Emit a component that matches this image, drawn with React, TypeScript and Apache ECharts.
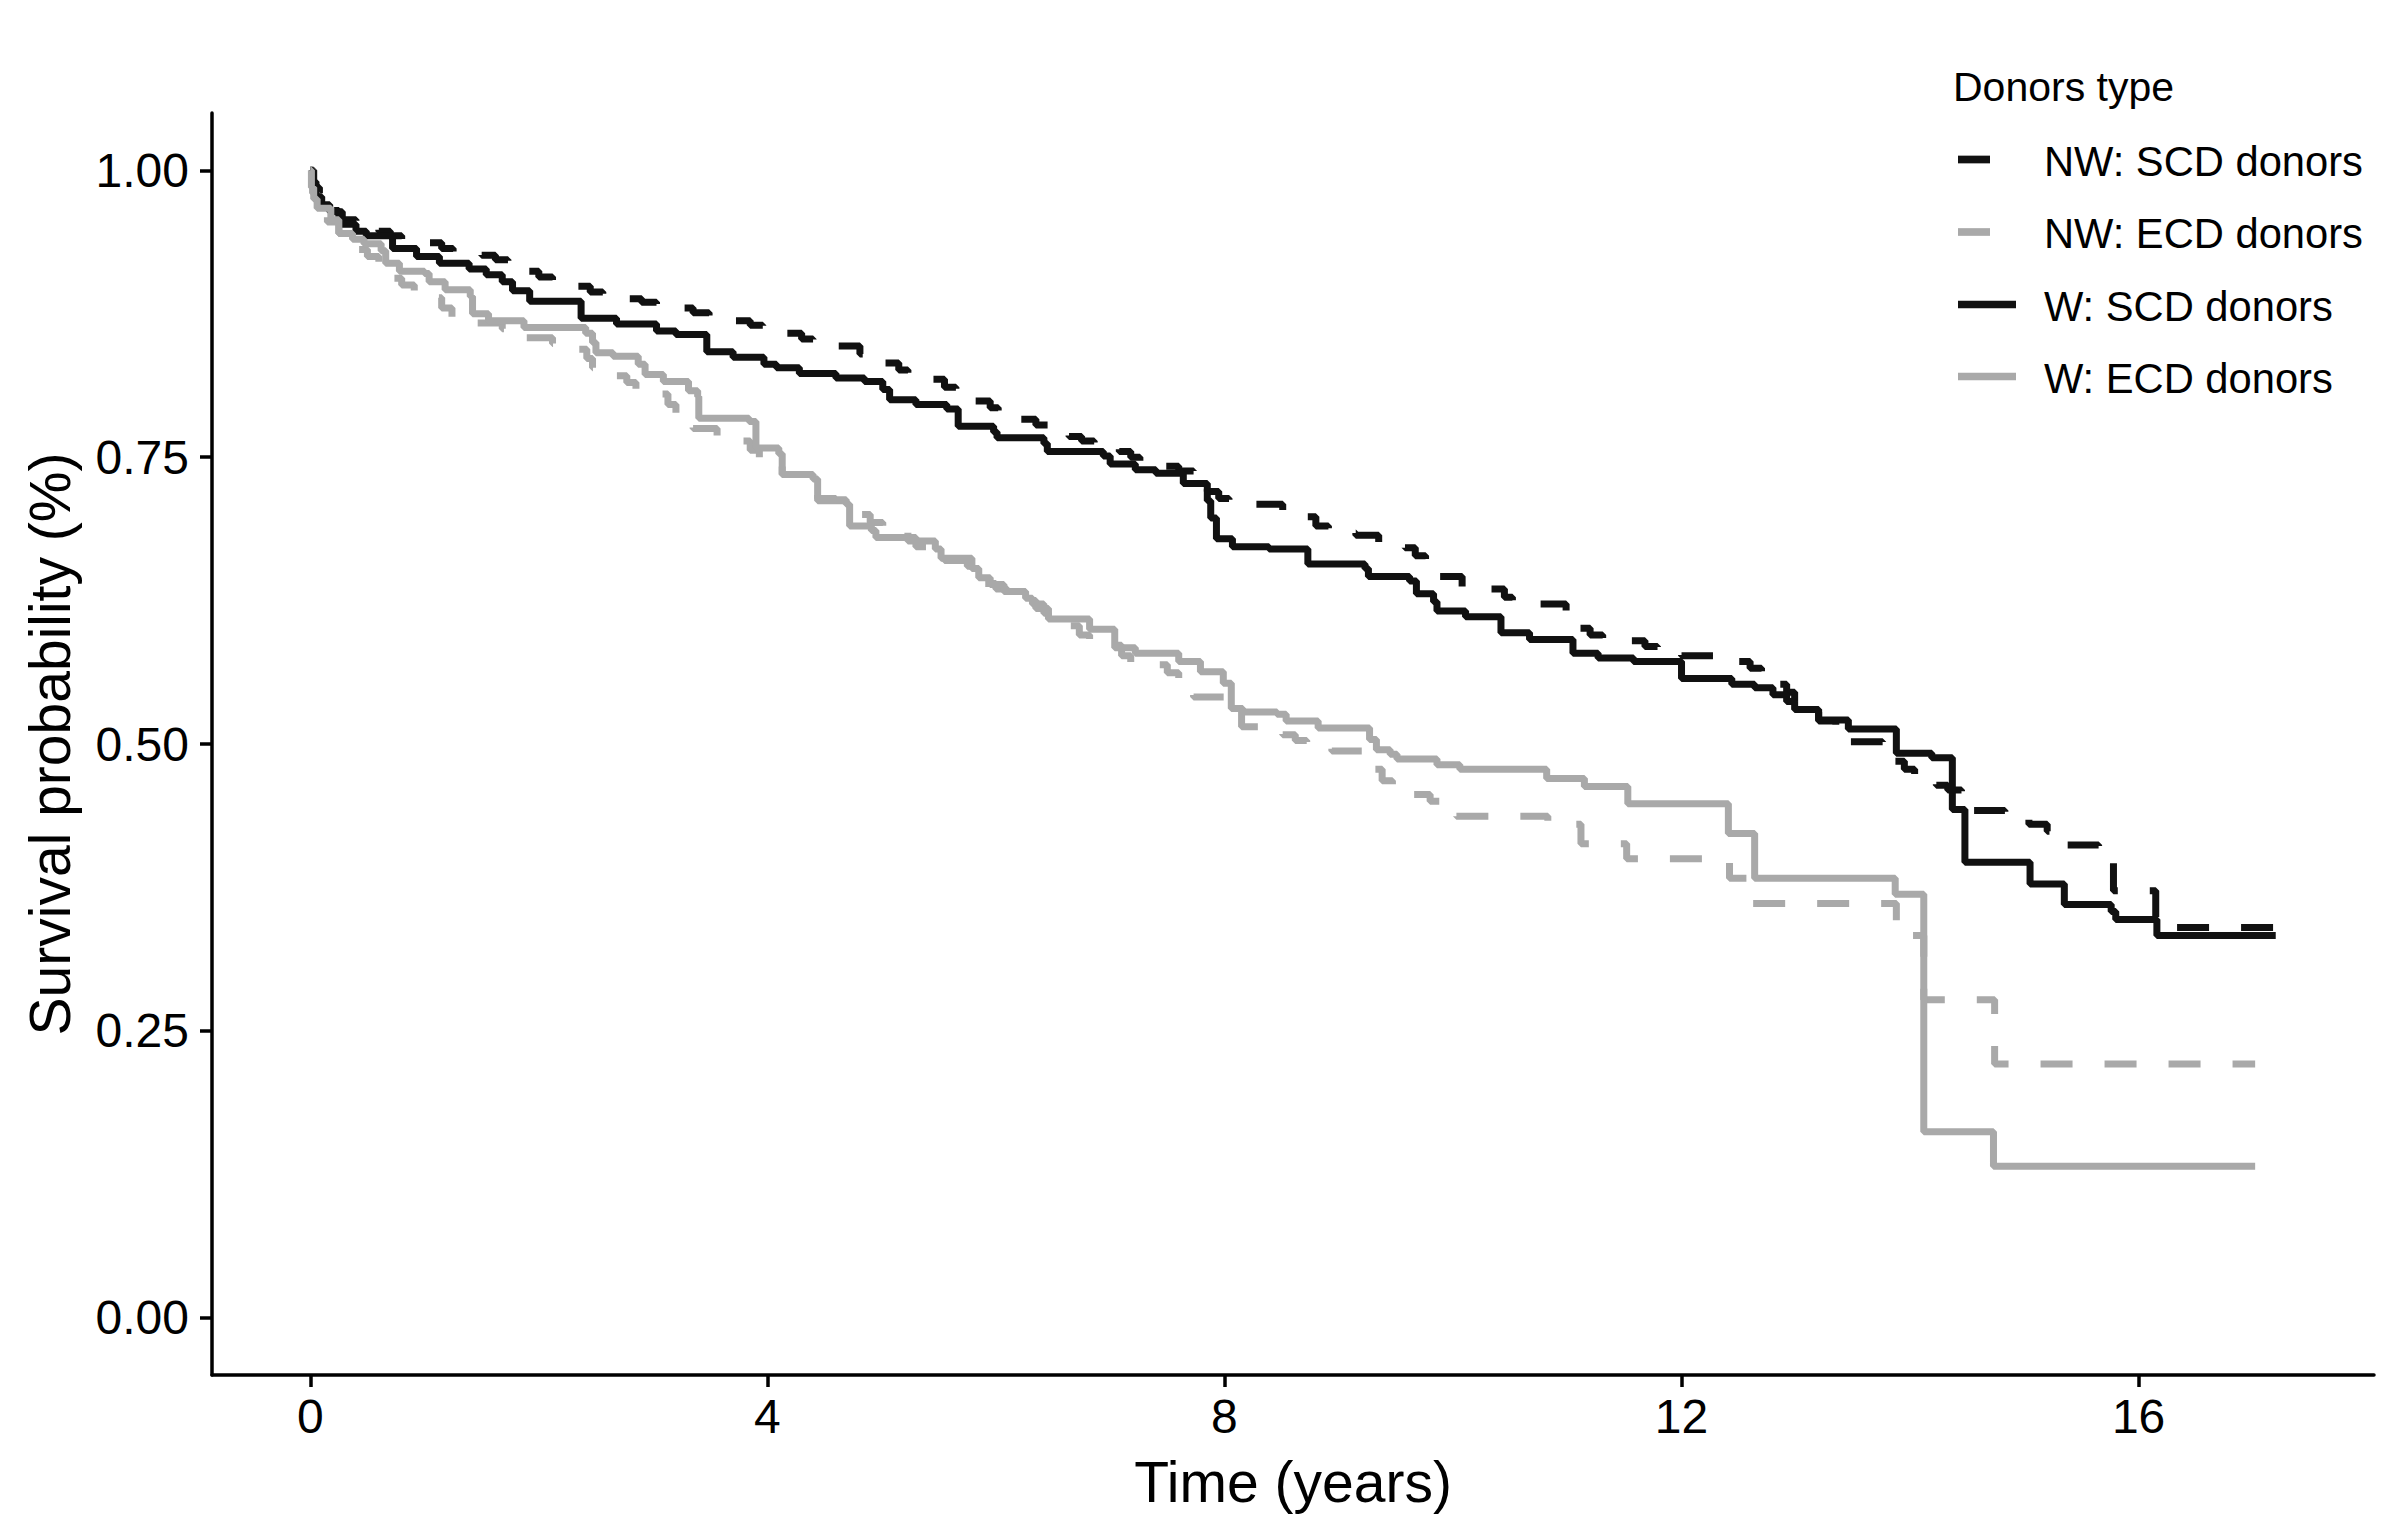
import React, { useEffect, useRef } from "react";
import * as echarts from "echarts";

const xTicks = [0, 4, 8, 12, 16];
const yTicks = [0, 0.25, 0.5, 0.75, 1.0];
const seriesNames = ["NW: SCD donors", "NW: ECD donors", "W: SCD donors", "W: ECD donors"];
const legendTitle = "Donors type";

// [time (years), survival probability] – step points (value holds from this time on)
const nwScd: number[][] = [
  [0, 1.0], [0.03, 0.985], [0.08, 0.975], [0.15, 0.965], [0.25, 0.957], [0.4, 0.952], [0.6, 0.947], [0.7, 0.943],
  [0.8, 0.94], [1.0, 0.937], [1.15, 0.932], [1.25, 0.928], [1.5, 0.926], [1.62, 0.922], [1.73, 0.918], [1.9, 0.912],
  [2.0, 0.907], [2.12, 0.902], [2.34, 0.899], [2.45, 0.894], [2.56, 0.89], [2.78, 0.888], [2.9, 0.885], [3.03, 0.882],
  [3.27, 0.88], [3.35, 0.876], [3.49, 0.871], [3.71, 0.869], [3.85, 0.865], [3.96, 0.862], [4.16, 0.858], [4.3, 0.853],
  [4.4, 0.849], [4.62, 0.847], [4.81, 0.84], [5.03, 0.832], [5.15, 0.826], [5.23, 0.821], [5.43, 0.818], [5.55, 0.811],
  [5.65, 0.806], [5.82, 0.799], [5.95, 0.793], [6.02, 0.788], [6.21, 0.783], [6.35, 0.778], [6.46, 0.775], [6.64, 0.768],
  [6.75, 0.764], [6.86, 0.76], [7.08, 0.755], [7.18, 0.75], [7.26, 0.745], [7.48, 0.742], [7.6, 0.738], [7.73, 0.735],
  [7.8, 0.725], [7.85, 0.72], [7.95, 0.714], [8.04, 0.709], [8.51, 0.7], [8.71, 0.698], [8.8, 0.69], [8.91, 0.684],
  [9.15, 0.682], [9.35, 0.674], [9.58, 0.671], [9.67, 0.664], [9.76, 0.657], [9.88, 0.646], [10.08, 0.635], [10.45, 0.628],
  [10.52, 0.622], [10.99, 0.613], [11.11, 0.601], [11.2, 0.595], [11.31, 0.59], [11.68, 0.585], [11.79, 0.581], [12.0, 0.577],
  [12.29, 0.574], [12.5, 0.572], [12.6, 0.566], [12.7, 0.561], [12.86, 0.552], [12.92, 0.545], [12.99, 0.537], [13.1, 0.528],
  [13.2, 0.52], [13.35, 0.51], [13.46, 0.502], [13.76, 0.498], [13.86, 0.485], [13.95, 0.478], [14.04, 0.47], [14.23, 0.464],
  [14.33, 0.46], [14.45, 0.442], [14.83, 0.438], [15.04, 0.43], [15.2, 0.424], [15.37, 0.412], [15.65, 0.406], [15.78, 0.372],
  [16.15, 0.34], [17.2, 0.34],
];

const nwEcd: number[][] = [
  [0, 1.0], [0.02, 0.98], [0.06, 0.965], [0.15, 0.955], [0.25, 0.945], [0.39, 0.931], [0.5, 0.925], [0.6, 0.919],
  [0.71, 0.906], [0.8, 0.9], [0.91, 0.893], [1.09, 0.889], [1.15, 0.88], [1.24, 0.871], [1.45, 0.867], [1.68, 0.862],
  [1.89, 0.854], [2.12, 0.849], [2.34, 0.844], [2.42, 0.836], [2.47, 0.828], [2.68, 0.821], [2.77, 0.815], [2.85, 0.809],
  [3.07, 0.805], [3.13, 0.796], [3.2, 0.787], [3.35, 0.775], [3.56, 0.768], [3.78, 0.764], [3.85, 0.756], [3.93, 0.749],
  [4.13, 0.735], [4.4, 0.728], [4.44, 0.712], [4.69, 0.705], [4.81, 0.7], [4.9, 0.693], [5.01, 0.687], [5.23, 0.68],
  [5.3, 0.672], [5.5, 0.667], [5.55, 0.66], [5.75, 0.655], [5.82, 0.648], [5.9, 0.64], [6.0, 0.635], [6.1, 0.63],
  [6.26, 0.625], [6.35, 0.618], [6.46, 0.61], [6.64, 0.603], [6.73, 0.595], [6.82, 0.588], [7.0, 0.586], [7.1, 0.577],
  [7.18, 0.569], [7.5, 0.562], [7.6, 0.555], [7.73, 0.541], [8.06, 0.528], [8.15, 0.515], [8.51, 0.508], [8.62, 0.503],
  [8.72, 0.5], [8.94, 0.494], [9.3, 0.478], [9.38, 0.468], [9.47, 0.46], [9.65, 0.456], [9.8, 0.45], [9.89, 0.447],
  [10.03, 0.437], [10.83, 0.43], [11.12, 0.413], [11.52, 0.4], [12.42, 0.383], [12.62, 0.361], [13.88, 0.345], [14.02, 0.333],
  [14.12, 0.277], [14.74, 0.221], [17.02, 0.221],
];

const wScd: number[][] = [
  [0, 1.0], [0.02, 0.99], [0.05, 0.977], [0.1, 0.97], [0.17, 0.964], [0.28, 0.953], [0.4, 0.947], [0.49, 0.943],
  [0.72, 0.932], [0.93, 0.925], [1.13, 0.919], [1.39, 0.914], [1.54, 0.909], [1.68, 0.903], [1.77, 0.895], [1.92, 0.886],
  [2.37, 0.871], [2.68, 0.866], [3.03, 0.86], [3.2, 0.857], [3.47, 0.842], [3.7, 0.837], [3.97, 0.831], [4.08, 0.828],
  [4.28, 0.823], [4.6, 0.819], [4.85, 0.816], [5.01, 0.809], [5.07, 0.8], [5.3, 0.796], [5.57, 0.792], [5.67, 0.777],
  [5.98, 0.772], [6.01, 0.767], [6.42, 0.762], [6.45, 0.755], [6.94, 0.751], [7.0, 0.744], [7.22, 0.739], [7.4, 0.736],
  [7.64, 0.727], [7.85, 0.712], [7.88, 0.697], [7.93, 0.679], [8.07, 0.672], [8.39, 0.67], [8.73, 0.657], [9.23, 0.653],
  [9.26, 0.646], [9.62, 0.642], [9.68, 0.631], [9.83, 0.624], [9.86, 0.616], [10.11, 0.611], [10.42, 0.597], [10.67, 0.591],
  [11.05, 0.579], [11.27, 0.575], [11.58, 0.572], [12.0, 0.557], [12.44, 0.552], [12.64, 0.549], [12.8, 0.543], [12.92, 0.537],
  [12.99, 0.53], [13.2, 0.521], [13.46, 0.513], [13.88, 0.492], [14.19, 0.488], [14.37, 0.443], [14.48, 0.397], [15.05, 0.378],
  [15.35, 0.36], [15.76, 0.354], [15.8, 0.347], [16.16, 0.333], [17.2, 0.333],
];

const wEcd: number[][] = [
  [0, 1.0], [0.01, 0.985], [0.03, 0.975], [0.06, 0.967], [0.18, 0.957], [0.25, 0.945], [0.37, 0.94], [0.47, 0.936],
  [0.62, 0.93], [0.66, 0.919], [0.78, 0.912], [1.0, 0.91], [1.04, 0.903], [1.18, 0.896], [1.4, 0.89], [1.42, 0.875],
  [1.56, 0.869], [1.87, 0.863], [2.41, 0.858], [2.47, 0.85], [2.5, 0.841], [2.65, 0.838], [2.87, 0.831], [2.93, 0.822],
  [3.09, 0.816], [3.31, 0.808], [3.39, 0.803], [3.4, 0.784], [3.84, 0.781], [3.9, 0.758], [4.1, 0.753], [4.13, 0.735],
  [4.4, 0.731], [4.44, 0.714], [4.6, 0.713], [4.69, 0.709], [4.72, 0.69], [4.91, 0.686], [4.95, 0.68], [5.23, 0.677],
  [5.47, 0.67], [5.52, 0.662], [5.79, 0.653], [5.85, 0.645], [5.95, 0.639], [6.07, 0.633], [6.26, 0.627], [6.32, 0.622],
  [6.42, 0.614], [6.46, 0.609], [6.82, 0.6], [7.04, 0.584], [7.22, 0.579], [7.6, 0.572], [7.79, 0.563], [7.99, 0.553],
  [8.06, 0.531], [8.16, 0.528], [8.46, 0.526], [8.54, 0.52], [8.82, 0.514], [9.27, 0.504], [9.33, 0.495], [9.45, 0.491],
  [9.51, 0.487], [9.86, 0.482], [10.06, 0.478], [10.82, 0.47], [11.15, 0.463], [11.53, 0.448], [12.41, 0.422], [12.64, 0.383],
  [13.87, 0.369], [14.12, 0.162], [14.73, 0.132], [17.02, 0.132],
];

const seriesData = [nwScd, nwEcd, wScd, wEcd];
const seriesColors = ["#111111", "#a9a9a9", "#111111", "#a9a9a9"];
const seriesDashed = [true, true, false, false];

const FONT = "'Liberation Sans', Arial, Helvetica, sans-serif";
const DASH = [32, 32];

export default function App() {
  const ref = useRef<HTMLDivElement>(null);

  useEffect(() => {
    if (!ref.current) return;
    const chart = echarts.init(ref.current, undefined, { renderer: "svg" });
    const axisCommon = {
      type: "value" as const,
      splitLine: { show: false },
      axisLine: { show: true, onZero: false, lineStyle: { color: "#000", width: 3.5 } },
      nameLocation: "middle" as const,
      nameTextStyle: { fontSize: 57, color: "#000", fontFamily: FONT },
    };

    // legend drawn as graphic elements (key line + label)
    const keyX0 = 1958;
    const keyX1 = 2016;
    const textX = 2044;
    const rowY = [161, 233.5, 306, 378];
    const legendEls: any[] = [];
    seriesNames.forEach((name, i) => {
      legendEls.push({
        type: "line",
        shape: { x1: keyX0, y1: rowY[i] - 1.5, x2: keyX1, y2: rowY[i] - 1.5 },
        style: {
          stroke: seriesColors[i],
          lineWidth: 7.7,
          lineDash: seriesDashed[i] ? DASH : null,
          lineCap: "butt",
        },
      });
      legendEls.push({
        type: "text",
        x: textX,
        y: rowY[i],
        style: {
          text: name,
          fontSize: 41.7,
          fontFamily: FONT,
          fill: "#000",
          textAlign: "left",
          textVerticalAlign: "middle",
        },
      });
    });

    chart.setOption({
      animation: false,
      backgroundColor: "#ffffff",
      textStyle: { fontFamily: FONT },
      title: {
        text: legendTitle,
        left: 1953,
        top: 66,
        padding: 0,
        textStyle: { fontSize: 41, fontWeight: "normal", color: "#000", fontFamily: FONT, lineHeight: 41 },
      },
      graphic: legendEls,
      grid: { left: 212, right: 26, top: 113, bottom: 162, containLabel: false },
      xAxis: {
        ...axisCommon,
        min: -0.86,
        max: 18.06,
        name: "Time (years)",
        nameGap: 78,
        axisTick: { show: true, length: 12, lineStyle: { color: "#000", width: 3.5 }, customValues: xTicks },
        axisLabel: { customValues: xTicks, fontSize: 48, color: "#000", margin: 17, fontFamily: FONT },
      },
      yAxis: {
        ...axisCommon,
        min: -0.05,
        max: 1.05,
        name: "Survival probability (%)",
        nameGap: 134,
        axisTick: { show: true, length: 12, lineStyle: { color: "#000", width: 3.5 }, customValues: yTicks },
        axisLabel: {
          customValues: yTicks,
          fontSize: 48,
          color: "#000",
          margin: 23,
          fontFamily: FONT,
          formatter: (v: number) => v.toFixed(2),
        },
      },
      series: seriesNames.map((name, i) => ({
        name,
        type: "line",
        step: "end",
        data: seriesData[i],
        showSymbol: false,
        symbol: "none",
        color: seriesColors[i],
        lineStyle: {
          color: seriesColors[i],
          width: 7,
          type: seriesDashed[i] ? DASH : "solid",
          cap: "butt",
        },
        z: 2 + i,
      })),
    });
    return () => chart.dispose();
  }, []);

  return (
    <div
      ref={ref}
      style={{ position: "fixed", left: 0, top: 0, width: 2400, height: 1537, background: "#fff" }}
    />
  );
}
